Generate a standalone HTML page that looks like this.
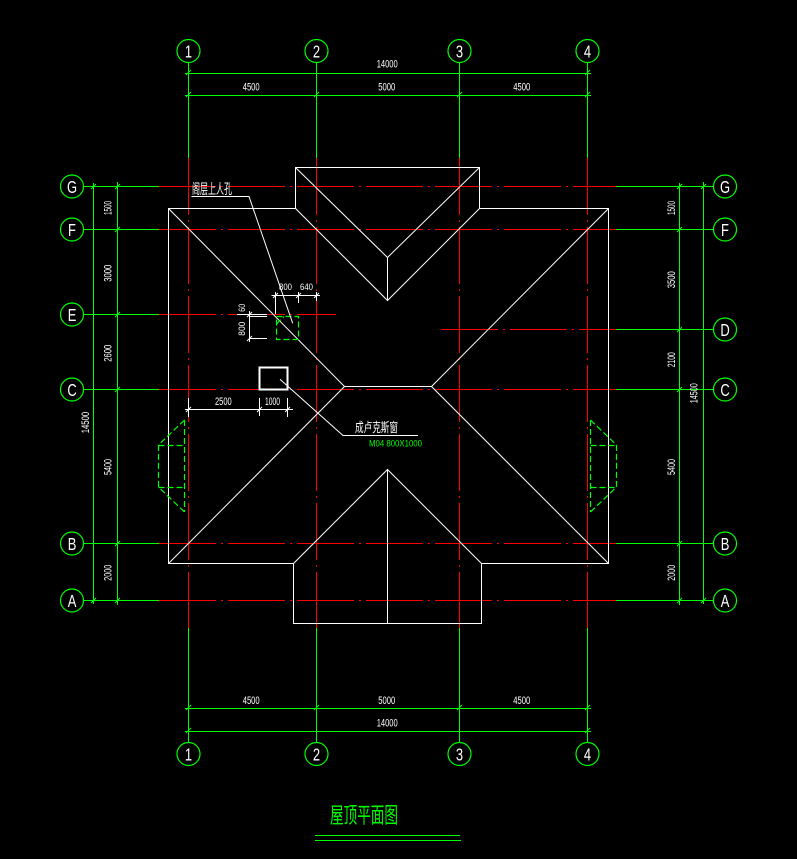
<!DOCTYPE html>
<html><head><meta charset="utf-8"><style>
html,body{margin:0;padding:0;background:#000;}
svg{display:block;}
text{font-family:"Liberation Sans","Noto Sans CJK SC",sans-serif;}
</style></head><body>
<svg width="797" height="859" viewBox="0 0 797 859" xmlns="http://www.w3.org/2000/svg">
<rect width="797" height="859" fill="#000"/>

<!-- vertical grid lines -->
<g stroke="#00ff00" stroke-width="1" shape-rendering="crispEdges" fill="none">
  <path d="M188.5,62.5V158 M316.5,62.5V158 M459.5,62.5V158 M587.5,62.5V158"/>
  <path d="M188.5,628V742.5 M316.5,628V742.5 M459.5,628V742.5 M587.5,628V742.5"/>
  <!-- left horizontal green -->
  <path d="M83.5,186.5H159 M83.5,229.5H159 M83.5,314.5H159 M83.5,389.5H159 M83.5,543.5H159 M83.5,600.5H159"/>
  <!-- right horizontal green -->
  <path d="M616,186.5H713.5 M616,229.5H713.5 M616,329.5H713.5 M616,389.5H713.5 M616,543.5H713.5 M616,600.5H713.5"/>
  <!-- dim lines -->
  <path d="M185,73.5H591 M185,95.5H591 M185,708.5H591 M185,731.5H591"/>
  <path d="M93.5,183V604 M117.5,182V605 M679.5,183V605 M703.5,182V604"/>
</g>
<g stroke="#ff0000" stroke-width="1" shape-rendering="crispEdges" fill="none" stroke-dasharray="57 5 2 5">
  <path d="M188.5,158V628 M316.5,158V628 M459.5,158V628 M587.5,158V628"/>
  <path d="M159,186.5H616 M159,229.5H616 M159,389.5H616 M159,543.5H616 M159,600.5H616"/>
  <path d="M159,314.5H336 M441,329.5H616"/>
</g>

<!-- ticks -->
<g stroke="#00ff00" stroke-width="1" fill="none">
  <path d="M186,75L191,70 M585,75L590,70
           M186,97L191,92 M314,97L319,92 M457,97L462,92 M585,97L590,92
           M186,710L191,705 M314,710L319,705 M457,710L462,705 M585,710L590,705
           M186,733L191,728 M585,733L590,728"/>
  <path d="M91,189L96,184 M91,603L96,598
           M115,189L120,184 M115,232L120,227 M115,317L120,312 M115,392L120,387 M115,546L120,541 M115,603L120,598
           M677,189L682,184 M677,232L682,227 M677,332L682,327 M677,392L682,387 M677,546L682,541 M677,603L682,598
           M701,189L706,184 M701,603L706,598"/>
</g>

<!-- axis circles -->
<g stroke="#00ff00" stroke-width="1.2" fill="none">
  <circle cx="188.5" cy="51" r="11.5"/><circle cx="316.5" cy="51" r="11.5"/>
  <circle cx="459.5" cy="51" r="11.5"/><circle cx="587.5" cy="51" r="11.5"/>
  <circle cx="188.5" cy="754" r="11.5"/><circle cx="316.5" cy="754" r="11.5"/>
  <circle cx="459.5" cy="754" r="11.5"/><circle cx="587.5" cy="754" r="11.5"/>
  <circle cx="72" cy="186.5" r="11.5"/><circle cx="72" cy="229.5" r="11.5"/>
  <circle cx="72" cy="314.5" r="11.5"/><circle cx="72" cy="389.5" r="11.5"/>
  <circle cx="72" cy="543.5" r="11.5"/><circle cx="72" cy="600.5" r="11.5"/>
  <circle cx="725" cy="186.5" r="11.5"/><circle cx="725" cy="229.5" r="11.5"/>
  <circle cx="725" cy="329.5" r="11.5"/><circle cx="725" cy="389.5" r="11.5"/>
  <circle cx="725" cy="543.5" r="11.5"/><circle cx="725" cy="600.5" r="11.5"/>
</g>
<g fill="#fff" font-size="18" text-anchor="middle">
  <text transform="translate(188.5,57.5) scale(0.72,1)">1</text>
  <text transform="translate(316.5,57.5) scale(0.72,1)">2</text>
  <text transform="translate(459.5,57.5) scale(0.72,1)">3</text>
  <text transform="translate(587.5,57.5) scale(0.72,1)">4</text>
  <text transform="translate(188.5,760.5) scale(0.72,1)">1</text>
  <text transform="translate(316.5,760.5) scale(0.72,1)">2</text>
  <text transform="translate(459.5,760.5) scale(0.72,1)">3</text>
  <text transform="translate(587.5,760.5) scale(0.72,1)">4</text>
  <text transform="translate(72,193) scale(0.72,1)">G</text>
  <text transform="translate(72,236) scale(0.72,1)">F</text>
  <text transform="translate(72,321) scale(0.72,1)">E</text>
  <text transform="translate(72,396) scale(0.72,1)">C</text>
  <text transform="translate(72,550) scale(0.72,1)">B</text>
  <text transform="translate(72,607) scale(0.72,1)">A</text>
  <text transform="translate(725,193) scale(0.72,1)">G</text>
  <text transform="translate(725,236) scale(0.72,1)">F</text>
  <text transform="translate(725,336) scale(0.72,1)">D</text>
  <text transform="translate(725,396) scale(0.72,1)">C</text>
  <text transform="translate(725,550) scale(0.72,1)">B</text>
  <text transform="translate(725,607) scale(0.72,1)">A</text>
</g>

<!-- dimension text -->
<g fill="#fff" font-size="11">
  <text x="376.7" y="67.3" textLength="21" lengthAdjust="spacingAndGlyphs">14000</text>
  <text x="242.7" y="90.7" textLength="17" lengthAdjust="spacingAndGlyphs">4500</text>
  <text x="378.3" y="90.7" textLength="17" lengthAdjust="spacingAndGlyphs">5000</text>
  <text x="513.3" y="90.7" textLength="17" lengthAdjust="spacingAndGlyphs">4500</text>
  <text x="242.7" y="704" textLength="17" lengthAdjust="spacingAndGlyphs">4500</text>
  <text x="378.3" y="704" textLength="17" lengthAdjust="spacingAndGlyphs">5000</text>
  <text x="513.3" y="704" textLength="17" lengthAdjust="spacingAndGlyphs">4500</text>
  <text x="376.7" y="726.7" textLength="21" lengthAdjust="spacingAndGlyphs">14000</text>

  <text transform="translate(111.5,215) rotate(-90)" textLength="14" lengthAdjust="spacingAndGlyphs">1500</text>
  <text transform="translate(111.5,281.7) rotate(-90)" textLength="17" lengthAdjust="spacingAndGlyphs">3000</text>
  <text transform="translate(111.5,361.7) rotate(-90)" textLength="17" lengthAdjust="spacingAndGlyphs">2600</text>
  <text transform="translate(111.5,475) rotate(-90)" textLength="16" lengthAdjust="spacingAndGlyphs">5400</text>
  <text transform="translate(111.5,580.7) rotate(-90)" textLength="16" lengthAdjust="spacingAndGlyphs">2000</text>
  <text transform="translate(89,433.3) rotate(-90)" textLength="21.5" lengthAdjust="spacingAndGlyphs">14500</text>

  <text transform="translate(675,215) rotate(-90)" textLength="14" lengthAdjust="spacingAndGlyphs">1500</text>
  <text transform="translate(675,288.3) rotate(-90)" textLength="17" lengthAdjust="spacingAndGlyphs">3500</text>
  <text transform="translate(675,367.3) rotate(-90)" textLength="15" lengthAdjust="spacingAndGlyphs">2100</text>
  <text transform="translate(675,475) rotate(-90)" textLength="16" lengthAdjust="spacingAndGlyphs">5400</text>
  <text transform="translate(675,580.7) rotate(-90)" textLength="16" lengthAdjust="spacingAndGlyphs">2000</text>
  <text transform="translate(697.3,403.3) rotate(-90)" textLength="20" lengthAdjust="spacingAndGlyphs">14500</text>
</g>

<!-- roof outline -->
<g stroke="#fff" fill="none">
  <path stroke-width="1.2" shape-rendering="crispEdges" d="M295.5,167.5H479.5V208.5H608.5V563.5H481.5V623.5H293.5V563.5H168.5V208.5H295.5Z"/>
  <path stroke-width="1" d="M168.5,208.5L344.5,386.5H431.5L608.5,208.5 M344.5,386.5L168.5,563.5 M431.5,386.5L608.5,563.5
    M295.5,167.5L387.5,257.5L479.5,167.5 M387.5,257.5V300.5 M295.5,208.5L387.5,300.5L479.5,208.5
    M293.5,563.5L387.5,469.5L481.5,563.5 M387.5,469.5V623.5"/>
  <rect x="259.5" y="367.5" width="28" height="22" stroke-width="2" shape-rendering="crispEdges"/>
</g>

<!-- green dashed elements -->
<g stroke="#00ff00" stroke-width="1.2" fill="none" stroke-dasharray="6 3">
  <rect x="276.5" y="316.5" width="22" height="23"/>
  <path d="M276.5,324L284,316.5"/>
  <path d="M184.5,420V512 M184.5,420L158.5,445V487L184.5,512 M158.5,445.5H184.5 M158.5,487.5H184.5"/>
  <path d="M590.5,420V512 M590.5,420L616.5,445V487L590.5,512 M590.5,445.5H616.5 M590.5,487.5H616.5"/>
</g>

<!-- small dimensions near hatch -->
<g stroke="#fff" stroke-width="1" fill="none" shape-rendering="crispEdges">
  <path d="M271.5,295.5H320"/>
  <path d="M275.5,292V314 M298.5,292V303 M316.5,292V301"/>
  <path d="M249.5,311V342 M237,314.5H267 M249,316.5H267 M249,338.5H267"/>
  <path d="M185,409.5H293 M188.5,398V417 M259.5,398V416 M287.5,398V417"/>
</g>
<g stroke="#fff" stroke-width="1" fill="none">
  <path d="M273,298L278,293 M296,298L301,293 M314,298L319,293"/>
  <path d="M247,317L252,312 M247,341L252,336"/>
  <path d="M186,412L191,407 M257,412L262,407 M285,412L290,407"/>
  <!-- leaders -->
  <path d="M191.5,196.5H249L292.7,323.3"/>
  <path d="M280,379.3L343,435.5H418"/>
</g>
<g fill="#fff" font-size="9.5">
  <text x="279" y="290" textLength="13" lengthAdjust="spacingAndGlyphs">800</text>
  <text x="300" y="290" textLength="13" lengthAdjust="spacingAndGlyphs">640</text>
  <text transform="translate(245,311.7) rotate(-90)" textLength="8" lengthAdjust="spacingAndGlyphs">60</text>
  <text transform="translate(245,335.7) rotate(-90)" textLength="14" lengthAdjust="spacingAndGlyphs">800</text>
  <text x="215" y="405" font-size="11" textLength="16.7" lengthAdjust="spacingAndGlyphs">2500</text>
  <text x="265" y="405" font-size="11" textLength="15" lengthAdjust="spacingAndGlyphs">1000</text>
</g>

<!-- labels -->
<text x="192" y="194" fill="#fff" font-size="14" textLength="40" lengthAdjust="spacingAndGlyphs">阁层上人孔</text>
<text x="355" y="432" fill="#fff" font-size="13" textLength="43" lengthAdjust="spacingAndGlyphs">成卢克斯窗</text>
<text x="369" y="446.5" fill="#00ff00" font-size="9.5" textLength="53" lengthAdjust="spacingAndGlyphs">M04 800X1000</text>

<!-- title -->
<text x="330" y="823" fill="#00ff00" font-size="22" textLength="68" lengthAdjust="spacingAndGlyphs">屋顶平面图</text>
<g stroke="#00ff00" stroke-width="1.3" shape-rendering="crispEdges">
  <path d="M315,835.5H460 M315,840.5H461"/>
</g>
</svg>
</body></html>
